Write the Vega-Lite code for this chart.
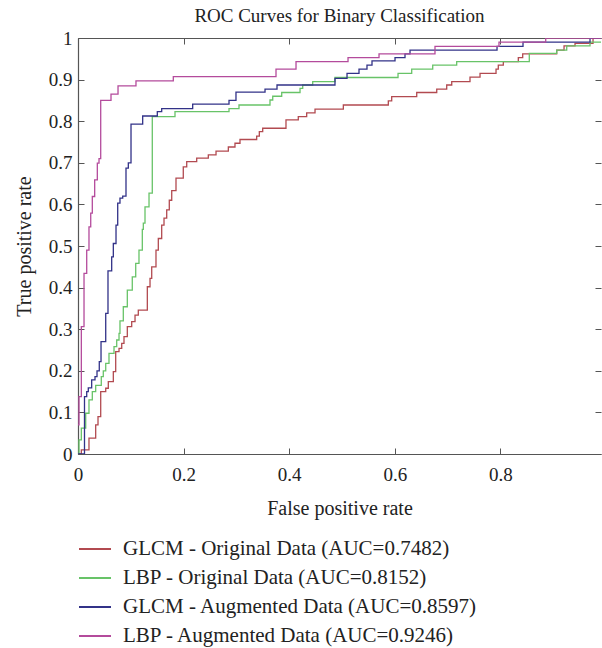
{
  "$schema": "https://vega.github.io/schema/vega-lite/v6.json",
  "width": 523,
  "height": 416,
  "autosize": {"type": "none"},
  "padding": {"left": 78, "top": 38, "right": 1, "bottom": 194},
  "title": {"text": "ROC Curves for Binary Classification", "font": "Times New Roman, Liberation Serif, serif", "fontSize": 19, "fontWeight": "normal", "color": "#222", "anchor": "middle", "baseline": "middle", "offset": 2, "dy": 8},
  "datasets": {
    "glcmO": [
      {"fpr":0,"tpr":0},{"fpr":0.0063,"tpr":0.01},{"fpr":0.0208,"tpr":0.038},{"fpr":0.0335,"tpr":0.07},{"fpr":0.0379,"tpr":0.09},{"fpr":0.043,"tpr":0.15},{"fpr":0.0525,"tpr":0.158},{"fpr":0.0574,"tpr":0.174},{"fpr":0.0669,"tpr":0.198},{"fpr":0.0714,"tpr":0.246},{"fpr":0.0777,"tpr":0.254},{"fpr":0.0828,"tpr":0.266},{"fpr":0.0871,"tpr":0.282},{"fpr":0.0934,"tpr":0.306},{"fpr":0.1017,"tpr":0.318},{"fpr":0.108,"tpr":0.334},{"fpr":0.1142,"tpr":0.346},{"fpr":0.1313,"tpr":0.402},{"fpr":0.1364,"tpr":0.422},{"fpr":0.1396,"tpr":0.45},{"fpr":0.1477,"tpr":0.49},{"fpr":0.1521,"tpr":0.518},{"fpr":0.1585,"tpr":0.55},{"fpr":0.1629,"tpr":0.567},{"fpr":0.168,"tpr":0.587},{"fpr":0.1729,"tpr":0.61},{"fpr":0.1775,"tpr":0.633},{"fpr":0.1856,"tpr":0.663},{"fpr":0.1994,"tpr":0.69},{"fpr":0.2059,"tpr":0.703},{"fpr":0.2248,"tpr":0.711},{"fpr":0.2468,"tpr":0.719},{"fpr":0.2614,"tpr":0.728},{"fpr":0.2847,"tpr":0.738},{"fpr":0.2973,"tpr":0.747},{"fpr":0.3068,"tpr":0.756},{"fpr":0.3384,"tpr":0.764},{"fpr":0.3434,"tpr":0.775},{"fpr":0.3498,"tpr":0.783},{"fpr":0.3939,"tpr":0.803},{"fpr":0.4172,"tpr":0.811},{"fpr":0.4331,"tpr":0.82},{"fpr":0.4489,"tpr":0.829},{"fpr":0.5025,"tpr":0.839},{"fpr":0.5877,"tpr":0.849},{"fpr":0.5941,"tpr":0.859},{"fpr":0.6415,"tpr":0.869},{"fpr":0.6794,"tpr":0.877},{"fpr":0.6983,"tpr":0.887},{"fpr":0.7078,"tpr":0.895},{"fpr":0.7424,"tpr":0.906},{"fpr":0.7614,"tpr":0.915},{"fpr":0.7917,"tpr":0.925},{"fpr":0.796,"tpr":0.935},{"fpr":0.8055,"tpr":0.943},{"fpr":0.8339,"tpr":0.953},{"fpr":0.8422,"tpr":0.962},{"fpr":0.9066,"tpr":0.971},{"fpr":0.9205,"tpr":0.981},{"fpr":0.9413,"tpr":0.987},{"fpr":0.9754,"tpr":1},{"fpr":1,"tpr":1}
    ],
    "lbpO": [
      {"fpr":0,"tpr":0},{"fpr":0.0019,"tpr":0.034},{"fpr":0.0063,"tpr":0.062},{"fpr":0.0146,"tpr":0.098},{"fpr":0.0208,"tpr":0.13},{"fpr":0.0271,"tpr":0.15},{"fpr":0.0335,"tpr":0.165},{"fpr":0.0441,"tpr":0.186},{"fpr":0.0479,"tpr":0.2},{"fpr":0.0525,"tpr":0.218},{"fpr":0.0587,"tpr":0.242},{"fpr":0.0682,"tpr":0.258},{"fpr":0.0733,"tpr":0.274},{"fpr":0.0777,"tpr":0.29},{"fpr":0.0795,"tpr":0.32},{"fpr":0.0858,"tpr":0.354},{"fpr":0.0934,"tpr":0.394},{"fpr":0.1028,"tpr":0.426},{"fpr":0.1093,"tpr":0.458},{"fpr":0.1155,"tpr":0.49},{"fpr":0.1218,"tpr":0.54},{"fpr":0.1237,"tpr":0.555},{"fpr":0.1269,"tpr":0.594},{"fpr":0.1345,"tpr":0.627},{"fpr":0.1407,"tpr":0.811},{"fpr":0.1837,"tpr":0.823},{"fpr":0.286,"tpr":0.83},{"fpr":0.3049,"tpr":0.839},{"fpr":0.3636,"tpr":0.851},{"fpr":0.3688,"tpr":0.86},{"fpr":0.3858,"tpr":0.869},{"fpr":0.4205,"tpr":0.879},{"fpr":0.4256,"tpr":0.887},{"fpr":0.4445,"tpr":0.895},{"fpr":0.4867,"tpr":0.905},{"fpr":0.6061,"tpr":0.915},{"fpr":0.632,"tpr":0.925},{"fpr":0.6718,"tpr":0.935},{"fpr":0.7172,"tpr":0.943},{"fpr":0.8547,"tpr":0.963},{"fpr":0.9066,"tpr":0.971},{"fpr":0.9256,"tpr":0.981},{"fpr":0.9697,"tpr":0.99},{"fpr":1,"tpr":1}
    ],
    "glcmA": [
      {"fpr":0,"tpr":0},{"fpr":0.0123,"tpr":0.138},{"fpr":0.0165,"tpr":0.15},{"fpr":0.0195,"tpr":0.159},{"fpr":0.0259,"tpr":0.178},{"fpr":0.0322,"tpr":0.186},{"fpr":0.036,"tpr":0.2},{"fpr":0.0403,"tpr":0.222},{"fpr":0.0436,"tpr":0.27},{"fpr":0.0525,"tpr":0.338},{"fpr":0.0568,"tpr":0.44},{"fpr":0.0638,"tpr":0.474},{"fpr":0.0669,"tpr":0.506},{"fpr":0.072,"tpr":0.55},{"fpr":0.0752,"tpr":0.603},{"fpr":0.0795,"tpr":0.615},{"fpr":0.0847,"tpr":0.62},{"fpr":0.0909,"tpr":0.687},{"fpr":0.0953,"tpr":0.7},{"fpr":0.1004,"tpr":0.793},{"fpr":0.1225,"tpr":0.8125},{"fpr":0.1502,"tpr":0.823},{"fpr":0.1585,"tpr":0.83},{"fpr":0.2172,"tpr":0.841},{"fpr":0.286,"tpr":0.85},{"fpr":0.2992,"tpr":0.87},{"fpr":0.3542,"tpr":0.877},{"fpr":0.3769,"tpr":0.887},{"fpr":0.4867,"tpr":0.903},{"fpr":0.5095,"tpr":0.915},{"fpr":0.5322,"tpr":0.925},{"fpr":0.5473,"tpr":0.935},{"fpr":0.5568,"tpr":0.945},{"fpr":0.6004,"tpr":0.953},{"fpr":0.6193,"tpr":0.962},{"fpr":0.6288,"tpr":0.971},{"fpr":0.7936,"tpr":0.98},{"fpr":0.8428,"tpr":0.99},{"fpr":0.9697,"tpr":1},{"fpr":1,"tpr":1}
    ],
    "lbpA": [
      {"fpr":0,"tpr":0.07},{"fpr":0.0019,"tpr":0.138},{"fpr":0.0063,"tpr":0.306},{"fpr":0.0114,"tpr":0.434},{"fpr":0.0165,"tpr":0.49},{"fpr":0.0208,"tpr":0.546},{"fpr":0.0241,"tpr":0.579},{"fpr":0.0271,"tpr":0.619},{"fpr":0.0316,"tpr":0.659},{"fpr":0.0366,"tpr":0.699},{"fpr":0.0398,"tpr":0.71},{"fpr":0.043,"tpr":0.85},{"fpr":0.0625,"tpr":0.865},{"fpr":0.0758,"tpr":0.885},{"fpr":0.1098,"tpr":0.897},{"fpr":0.1805,"tpr":0.907},{"fpr":0.375,"tpr":0.925},{"fpr":0.4129,"tpr":0.943},{"fpr":0.5114,"tpr":0.953},{"fpr":0.5701,"tpr":0.962},{"fpr":0.6761,"tpr":0.98},{"fpr":0.7973,"tpr":0.99},{"fpr":0.8858,"tpr":1},{"fpr":1,"tpr":1}
    ]
  },
  "layer": [
    {
      "data": {"name": "glcmO"},
      "mark": {"type": "line", "interpolate": "step-after", "clip": true, "strokeWidth": 1.3},
      "encoding": {
        "x": {"field": "fpr", "type": "quantitative", "scale": {"domain": [0, 0.9905], "nice": false, "zero": false},
              "axis": {"orient": "bottom", "values": [0, 0.2, 0.4, 0.6, 0.8], "format": "~g", "title": "False positive rate", "titlePadding": 14, "labelPadding": 17, "labelFlush": false}},
        "y": {"field": "tpr", "type": "quantitative", "scale": {"domain": [0, 1], "nice": false, "zero": false},
              "axis": {"orient": "left", "values": [0, 0.1, 0.2, 0.3, 0.4, 0.5, 0.6, 0.7, 0.8, 0.9, 1], "format": "~g", "title": "True positive rate", "titlePadding": 14, "labelPadding": 12, "labelFlush": false}},
        "color": {
          "datum": "GLCM - Original Data (AUC=0.7482)",
          "scale": {
            "domain": ["GLCM - Original Data (AUC=0.7482)", "LBP - Original Data (AUC=0.8152)", "GLCM - Augmented Data (AUC=0.8597)", "LBP - Augmented Data (AUC=0.9246)"],
            "range": ["#b24a50", "#68c368", "#323288", "#b44b9c"]
          },
          "legend": {"orient": "none", "legendX": 0, "legendY": 494, "title": null, "symbolType": "stroke", "symbolSize": 1024, "symbolStrokeWidth": 2, "labelFont": "Times New Roman, Liberation Serif, serif", "labelFontSize": 21, "labelColor": "#222", "labelOffset": 11, "padding": 0, "rowPadding": 2, "labelLimit": 500}
        }
      }
    },
    {
      "data": {"name": "lbpO"},
      "mark": {"type": "line", "interpolate": "step-after", "clip": true, "strokeWidth": 1.3},
      "encoding": {
        "x": {"field": "fpr", "type": "quantitative", "axis": null},
        "y": {"field": "tpr", "type": "quantitative", "axis": null},
        "color": {"datum": "LBP - Original Data (AUC=0.8152)"}
      }
    },
    {
      "data": {"name": "glcmA"},
      "mark": {"type": "line", "interpolate": "step-after", "clip": true, "strokeWidth": 1.3},
      "encoding": {
        "x": {"field": "fpr", "type": "quantitative", "axis": null},
        "y": {"field": "tpr", "type": "quantitative", "axis": null},
        "color": {"datum": "GLCM - Augmented Data (AUC=0.8597)"}
      }
    },
    {
      "data": {"name": "lbpA"},
      "mark": {"type": "line", "interpolate": "step-after", "clip": true, "strokeWidth": 1.3},
      "encoding": {
        "x": {"field": "fpr", "type": "quantitative", "axis": null},
        "y": {"field": "tpr", "type": "quantitative", "axis": null},
        "color": {"datum": "LBP - Augmented Data (AUC=0.9246)"}
      }
    },
    {
      "data": {"name": "lbpA"},
      "mark": {"type": "line", "opacity": 0, "clip": true},
      "encoding": {
        "x": {"field": "fpr", "type": "quantitative", "axis": {"orient": "top", "values": [0, 0.2, 0.4, 0.6, 0.8], "labels": false, "title": null}},
        "y": {"field": "tpr", "type": "quantitative", "axis": {"orient": "right", "values": [0, 0.1, 0.2, 0.3, 0.4, 0.5, 0.6, 0.7, 0.8, 0.9, 1], "labels": false, "domain": false, "title": null}}
      }
    }
  ],
  "resolve": {"axis": {"x": "independent", "y": "independent"}},
  "config": {
    "view": {"stroke": null},
    "font": "Times New Roman, Liberation Serif, serif",
    "axis": {"grid": false, "tickSize": -6, "tickColor": "#555", "domainColor": "#555", "domainWidth": 1.2, "labelFont": "Times New Roman, Liberation Serif, serif", "labelFontSize": 19, "labelColor": "#222", "labelPadding": 9, "titleFont": "Times New Roman, Liberation Serif, serif", "titleFontSize": 20, "titleFontWeight": "normal", "titleColor": "#222"},
    "legend": {"labelFont": "Times New Roman, Liberation Serif, serif"}
  }
}
